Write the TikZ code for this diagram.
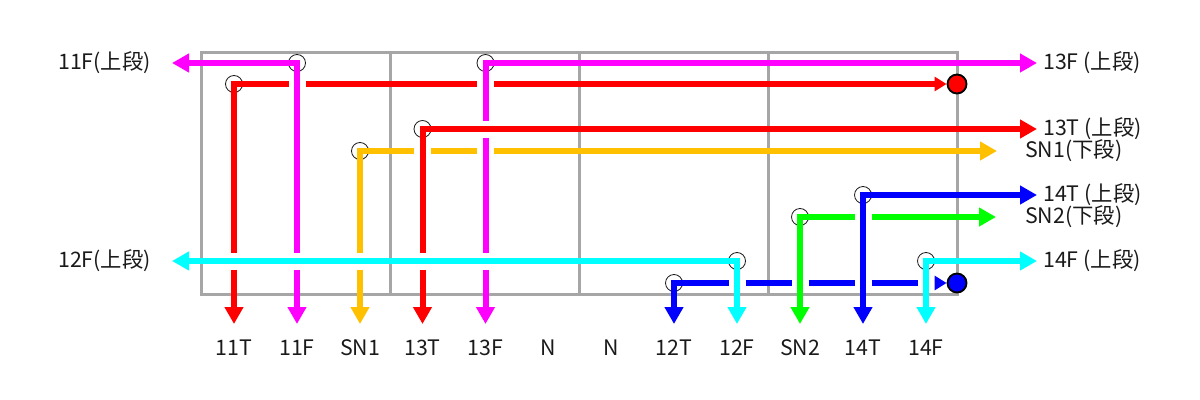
\documentclass[tikz,border=0pt]{standalone}
\usepackage{fontspec}
\setmainfont{Noto Sans CJK JP}
\usetikzlibrary{arrows.meta}
\definecolor{cMag}{HTML}{FF00FF}
\definecolor{cRed}{HTML}{FF0000}
\definecolor{cYel}{HTML}{FFC000}
\definecolor{cCya}{HTML}{00FFFF}
\definecolor{cBlu}{HTML}{0000FF}
\definecolor{cGrn}{HTML}{00FF00}
\definecolor{cGry}{HTML}{A6A6A6}
\definecolor{cTxt}{HTML}{1A1A1A}
\begin{document}
\begin{tikzpicture}[x=0.75pt,y=-0.75pt,
  >={Triangle[length=12.75pt,width=13.5pt]},
  wire/.style={line width=4.5pt,line join=miter},
  endtip/.style={-{Triangle[length=9pt,width=10.5pt]}},
  frame/.style={draw=cGry,line width=2.25pt},
  joint/.style={draw=cTxt,line width=0.6pt},
  term/.style={draw=black,line width=1.4pt},
  lbl/.style={font=\fontsize{16pt}{19pt}\selectfont,text=cTxt,inner sep=0pt}]
\useasboundingbox (0,0) rectangle (1200,400);

% frame
\coordinate (fTL) at (201,52);
\coordinate (fBR) at (957,294);
\draw[frame] (fTL) rectangle (fBR);
\foreach \xx in {390,579,768} \draw[frame] (\xx,52) -- (\xx,294);

% corner coordinates
\coordinate (k11F) at (297,63);
\coordinate (k11T) at (234,84);
\coordinate (kSN1) at (360,151);
\coordinate (k13T) at (422.5,129);
\coordinate (k13F) at (485.5,63);
\coordinate (k12T) at (674,283);
\coordinate (k12F) at (737,261);
\coordinate (kSN2) at (800,217);
\coordinate (k14T) at (863,195);
\coordinate (k14F) at (926,261);

% joint circles
\foreach \k in {k11F,k11T,kSN1,k13T,k13F,k12T,k12F,kSN2,k14T,k14F}
  \draw[joint] (\k) circle[radius=8.5];

% bottom tips
\coordinate (t11T) at (234,324);
\coordinate (t11F) at (297,324);
\coordinate (tSN1) at (360,324);
\coordinate (t13T) at (422.5,324);
\coordinate (t13F) at (485.5,324);
\coordinate (t12T) at (674,324);
\coordinate (t12F) at (737,324);
\coordinate (tSN2) at (800,324);
\coordinate (t14T) at (863,324);
\coordinate (t14F) at (926,324);

% side tips
\coordinate (e11F) at (172,63);
\coordinate (e12F) at (172,261);
\coordinate (e13F) at (1037,63);
\coordinate (e13T) at (1037,129);
\coordinate (eSN1) at (997,151);
\coordinate (e14T) at (1037,195);
\coordinate (eSN2) at (996,217);
\coordinate (e14F) at (1037,261);

% terminals
\node[term,fill=cRed,circle,minimum size=19*0.75pt,inner sep=0pt] (dRed) at (957,84) {};
\node[term,fill=cBlu,circle,minimum size=19*0.75pt,inner sep=0pt] (dBlu) at (957,283) {};

% 11F magenta
\draw[wire,cMag,<-] (e11F) -- (k11F) -- (297,252.5);
\draw[wire,cMag,->] (297,269.5) -- (t11F);
% 11T red
\draw[wire,cRed] (234,252.5) -- (k11T) -- (288.5,84);
\draw[wire,cRed] (305.5,84) -- (477,84);
\draw[wire,cRed,endtip] (494,84) -- (dRed.west);
\draw[wire,cRed,->] (234,269.5) -- (t11T);
% SN1 yellow
\draw[wire,cYel] (360,252.5) -- (kSN1) -- (414,151);
\draw[wire,cYel] (431,151) -- (477,151);
\draw[wire,cYel,->] (494,151) -- (eSN1);
\draw[wire,cYel,->] (360,269.5) -- (tSN1);
% 13T red
\draw[wire,cRed,->] (422.5,252.5) -- (k13T) -- (e13T);
\draw[wire,cRed,->] (422.5,269.5) -- (t13T);
% 13F magenta
\draw[wire,cMag,->] (485.5,120.5) -- (k13F) -- (e13F);
\draw[wire,cMag] (485.5,137.5) -- (485.5,252.5);
\draw[wire,cMag,->] (485.5,269.5) -- (t13F);
% 12T blue
\draw[wire,cBlu,<-] (t12T) -- (k12T) -- (728.5,283);
\draw[wire,cBlu] (745.5,283) -- (791.5,283);
\draw[wire,cBlu] (808.5,283) -- (854.5,283);
\draw[wire,cBlu] (871.5,283) -- (917.5,283);
\draw[wire,cBlu,endtip] (934.5,283) -- (dBlu.west);
% 12F cyan
\draw[wire,cCya,<->] (e12F) -- (k12F) -- (t12F);
% SN2 green
\draw[wire,cGrn,<-] (tSN2) -- (kSN2) -- (854.5,217);
\draw[wire,cGrn,->] (871.5,217) -- (eSN2);
% 14T blue
\draw[wire,cBlu,<->] (t14T) -- (k14T) -- (e14T);
% 14F cyan
\draw[wire,cCya,<->] (t14F) -- (k14F) -- (e14F);

% bottom labels
\foreach \xx/\tt/\nn in {234/11T/b1,297/11F/b2,360/SN1/b3,422.5/13T/b4,485.5/13F/b5,548.5/N/b6,611.5/N/b7,674/12T/b8,737/12F/b9,800/SN2/b10,863/14T/b11,926/14F/b12}
  \node[lbl] (\nn) at (\xx,347.5) {\tt};

% side labels
\node[lbl,anchor=east] (l11F) at (151,63) {11F(上段)};
\node[lbl,anchor=east] (l12F) at (151,261) {12F(上段)};
\node[lbl,anchor=west] (r13F) at (1043,63) {13F (上段)};
\node[lbl,anchor=west] (r13T) at (1043,129) {13T (上段)};
\node[lbl,anchor=west] (rSN1) at (1025,151) {SN1(下段)};
\node[lbl,anchor=west] (r14T) at (1043,195) {14T (上段)};
\node[lbl,anchor=west] (rSN2) at (1025,217) {SN2(下段)};
\node[lbl,anchor=west] (r14F) at (1043,261) {14F (上段)};
\end{tikzpicture}
\end{document}
